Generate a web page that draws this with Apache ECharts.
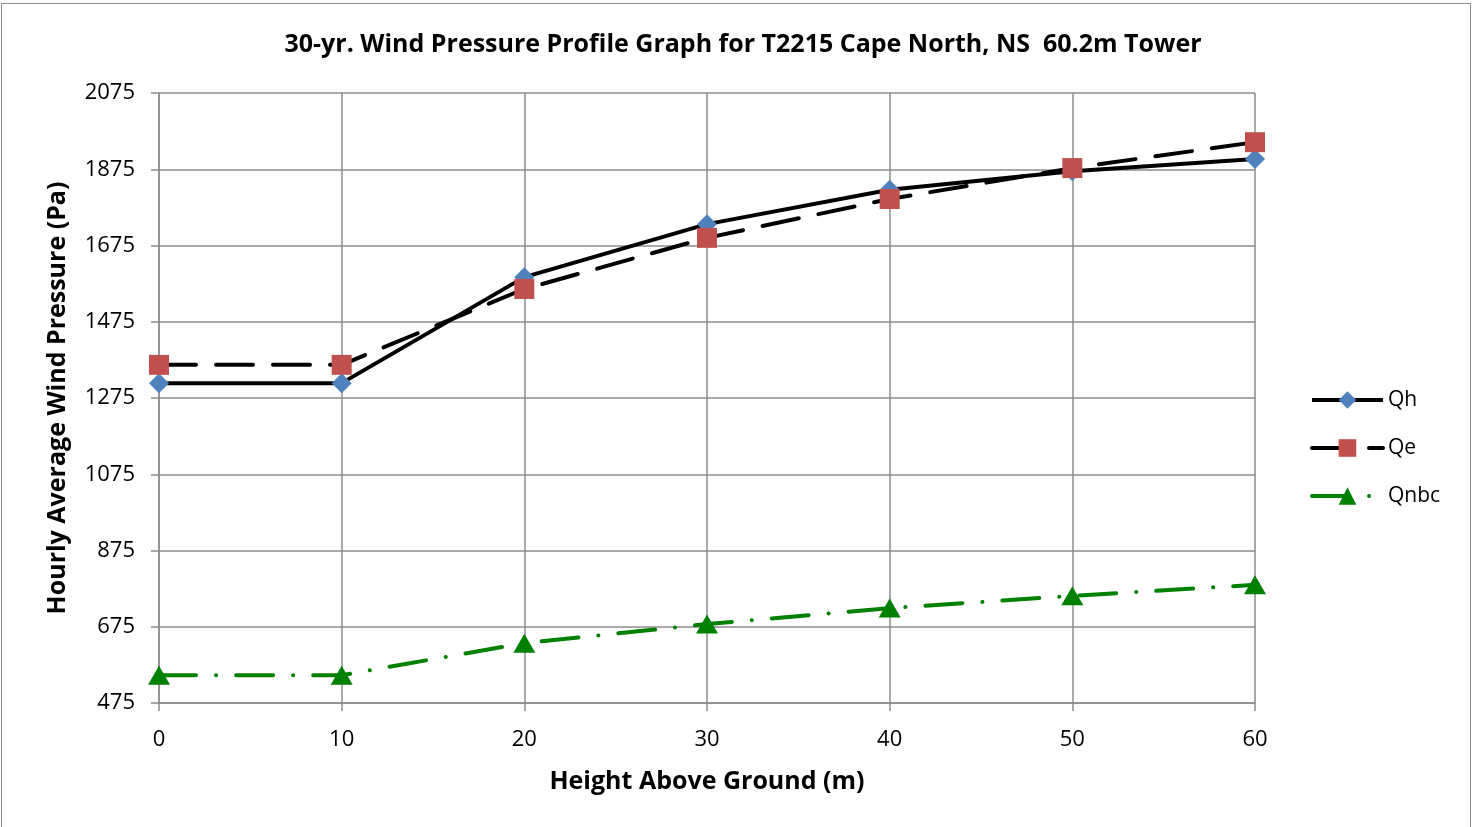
<!DOCTYPE html>
<html><head><meta charset="utf-8">
<script src="https://cdn.jsdelivr.net/npm/echarts@6/dist/echarts.min.js"></script>
<style>
html,body{margin:0;padding:0;background:#fff;overflow:hidden;}
#frame{position:absolute;left:1px;top:3px;width:1470px;height:840px;border:1px solid #8c8c8c;box-sizing:border-box;}
#c{position:absolute;left:0;top:0;width:1478px;height:827px;}
</style></head><body>
<div id="frame"></div>
<div id="c"></div>
<script>
var heights = [0, 10, 20, 30, 40, 50, 60];
var qh = [1314, 1314, 1592, 1731, 1821, 1870, 1902];
var qe = [1362, 1362, 1561, 1695, 1797, 1878, 1946];
var qnbc = [548, 548, 632, 682, 724, 756, 785];
var yTicks = [475, 675, 875, 1075, 1275, 1475, 1675, 1875, 2075];
var xTicks = [0, 10, 20, 30, 40, 50, 60];

function pairs(v){ return heights.map(function(h,i){ return [h, v[i]]; }); }
var F = '"Open Sans", "Noto Sans", sans-serif';
var qeDash = [37, 20];
var qnbcDash = [37, 20, 0.1, 20];
var chart = echarts.init(document.getElementById('c'), null, {renderer:'canvas'});
chart.setOption({
  animation:false,
  backgroundColor:'transparent',
  title:{text:'30-yr. Wind Pressure Profile Graph for T2215 Cape North, NS  60.2m Tower',
    left:738, top:27, textAlign:'center',
    textStyle:{fontFamily:F, fontSize:25, fontWeight:'bold', color:'#000'}},
  grid:{left:159, top:93, width:1096, height:610, containLabel:false},
  legend:{orient:'vertical', left:1305, top:384, itemGap:26, itemWidth:71, itemHeight:22,
    textStyle:{fontFamily:F, fontSize:21, color:'#000', lineHeight:22},
    data:[
      {name:'Qh', lineStyle:{width:4}},
      {name:'Qe', lineStyle:{width:4}},
      {name:'Qnbc', lineStyle:{width:4}}
    ]},
  xAxis:{type:'value', min:xTicks[0], max:xTicks[xTicks.length-1], interval:10,
    name:'Height Above Ground (m)', nameLocation:'middle', nameGap:66,
    nameTextStyle:{fontFamily:F, fontSize:25, fontWeight:'bold', color:'#000'},
    axisLine:{show:true, lineStyle:{color:'#8c8c8c', width:1.5}},
    axisTick:{show:true, length:8, lineStyle:{color:'#8c8c8c', width:1.5}},
    axisLabel:{fontFamily:F, fontSize:22, color:'#000', margin:26},
    splitLine:{show:true, lineStyle:{color:'#8c8c8c', width:1.5}}},
  yAxis:{type:'value', min:yTicks[0], max:yTicks[yTicks.length-1], interval:200,
    name:'Hourly Average Wind Pressure (Pa)', nameLocation:'middle', nameGap:89,
    nameTextStyle:{fontFamily:F, fontSize:25, fontWeight:'bold', color:'#000'},
    axisLine:{show:true, lineStyle:{color:'#8c8c8c', width:1.5}},
    axisTick:{show:true, length:8, lineStyle:{color:'#8c8c8c', width:1.5}},
    axisLabel:{fontFamily:F, fontSize:22, color:'#000', margin:24, formatter:function(v){return String(v);}},
    splitLine:{show:true, lineStyle:{color:'#8c8c8c', width:1.5}}},
  series:[
    {name:'Qh', type:'line', data:pairs(qh), symbol:'diamond', symbolSize:[20,20],
      lineStyle:{color:'#000', width:4}, itemStyle:{color:'#4F81BD'}, z:3},
    {name:'Qe', type:'line', data:pairs(qe), symbol:'rect', symbolSize:20,
      lineStyle:{color:'#000', width:4, type:qeDash, cap:'round'}, itemStyle:{color:'#C0504D'}, z:4},
    {name:'Qnbc', type:'line', data:pairs(qnbc), symbol:'triangle', symbolSize:[22,19],
      lineStyle:{color:'#008000', width:4, type:qnbcDash, cap:'round'}, itemStyle:{color:'#008000'}, z:3}
  ]
});
</script>
</body></html>
